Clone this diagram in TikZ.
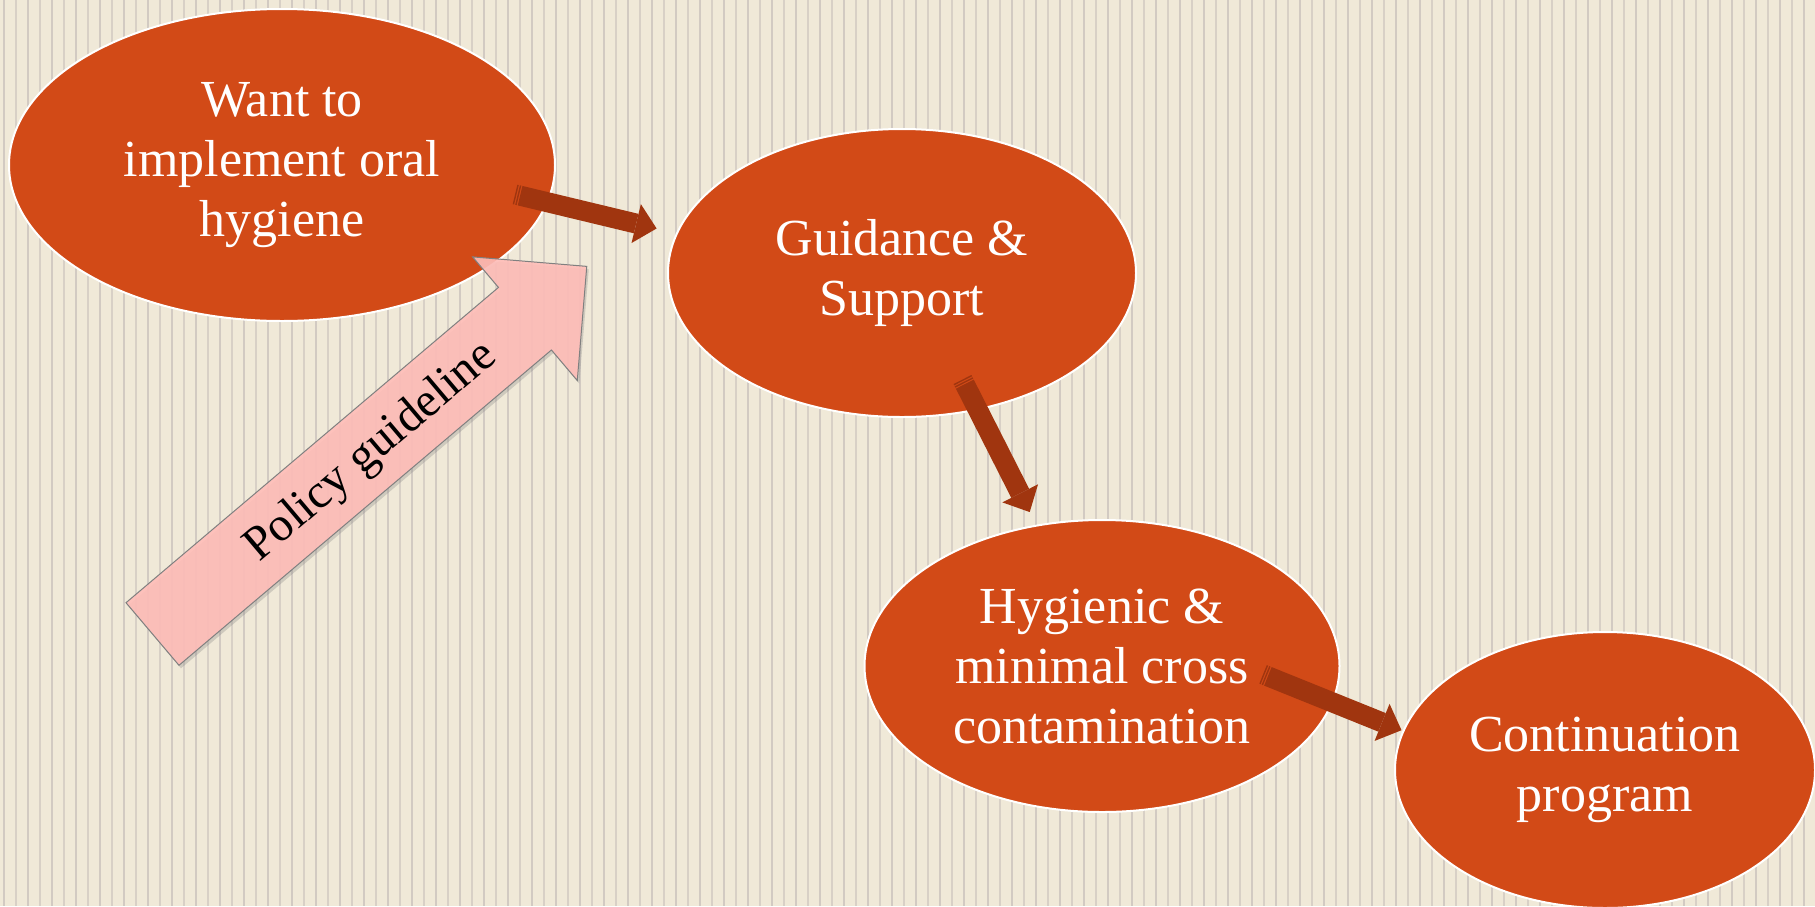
\documentclass[tikz,border=0pt]{standalone}
\usepackage{fontspec}
\setmainfont{Liberation Serif}
\usetikzlibrary{shapes.geometric,arrows.meta,shadows}
\definecolor{paper}{HTML}{F0E9D8}
\definecolor{pinstripe}{HTML}{D2CAC2}
\definecolor{bubblered}{HTML}{D24A17}
\definecolor{rust}{HTML}{A0350F}
\definecolor{policypink}{HTML}{FFBDB8}

\begin{document}
\begin{tikzpicture}[
  x=0.5pt, y=-0.5pt,
  bubble/.style={ellipse, draw=white, line width=1pt, fill=bubblered, text=white, inner sep=0pt, align=center, font=\fontsize{26}{30}\selectfont},
  flow/.style={draw=rust, line width=10pt, dash pattern=on 0.7pt off 0.6pt on 0.7pt off 0.6pt on 2000pt, -{Triangle[length=10.5pt, width=20pt, line width=0pt]}},
  policy/.style={fill=policypink, fill opacity=0.9, draw=black!50, line width=0.5pt, drop shadow={opacity=0.3, shadow xshift=1pt, shadow yshift=-1.5pt}}
]
\useasboundingbox (0,0) rectangle (1815,906);

% Background
\fill[paper] (0,0) rectangle (1815,906);
\foreach \i in {0,...,75} {
  \draw[pinstripe, line width=1pt] (4+24*\i,0) -- (4+24*\i,906);
  \draw[pinstripe!80!paper, line width=0.6pt] (16+24*\i,0) -- (16+24*\i,906);
}

% Bubbles
\node[bubble, minimum width=273pt, minimum height=156pt] (want) at (282,165) {Want to\\implement oral\\hygiene};
\node[bubble, minimum width=234pt, minimum height=144pt] (guide) at (902,273) {Guidance \&\\Support};
\node[bubble, minimum width=237.5pt, minimum height=146pt] (hyg) at (1102,666) {Hygienic \&\\minimal cross\\contamination};
\node[bubble, minimum width=210pt, minimum height=138pt] (cont) at (1605,770) {Continuation\\program};

% Policy arrow
\begin{scope}[shift={(152.5,634)}, rotate=40.25]
  \path[policy] (0,-41) -- (488,-41) -- (488,-81) -- (569,0) -- (488,81) -- (488,41) -- (0,41) -- cycle;
  \node[rotate=40.25, font=\fontsize{24}{28}\selectfont] (pol) at (284.5,3) {Policy guideline};
\end{scope}

% Flow arrows
\draw[flow, shorten <=-17pt, shorten >=10pt] (want.-8.3) -- (guide.170.3);
\draw[flow, shorten <=-17.2pt, shorten >=7.1pt] (guide.-61.9) -- (hyg.115.6);
\draw[flow, shorten <=-37.7pt, shorten >=0.6pt] (hyg.-9.1) -- (cont.169.4);
\end{tikzpicture}
\end{document}
